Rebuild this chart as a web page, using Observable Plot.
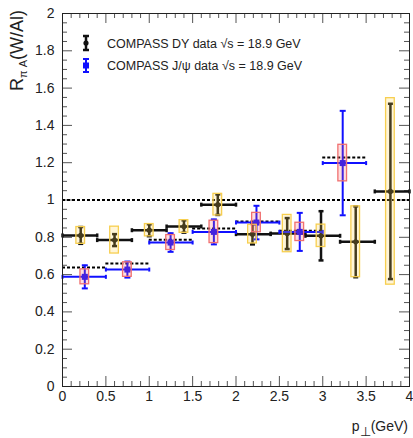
<!DOCTYPE html>
<html><head><meta charset="utf-8">
<script src="https://cdn.jsdelivr.net/npm/d3@7"></script>
<script src="https://cdn.jsdelivr.net/npm/@observablehq/plot@0.6"></script>
<style>
body{margin:0;background:#fff;}
#chart{position:relative;width:413px;height:438px;}
</style>
</head><body><div id="chart"></div>
<script>
// ---- data ----
const dyX   = [0.21, 0.60, 1.00, 1.40, 1.79, 2.19, 2.59, 2.98, 3.38, 3.78];
const dyLo  = [0.0, 0.4, 0.8, 1.2, 1.6, 2.0, 2.4, 2.8, 3.2, 3.6];
const dyHi  = [0.4, 0.8, 1.2, 1.6, 2.0, 2.4, 2.8, 3.2, 3.6, 4.0];
const dyY   = [0.81, 0.785, 0.838, 0.858, 0.975, 0.817, 0.82, 0.808, 0.776, 1.046];
const dyStat= [0.045, 0.032, 0.032, 0.033, 0.055, 0.055, 0.083, 0.132, 0.19, 0.47];
const dySys = [0.045, 0.072, 0.033, 0.034, 0.058, 0.05, 0.10, 0.06, 0.19, 0.50];

const jX    = [0.257, 0.748, 1.246, 1.745, 2.236, 2.735, 3.23];
const jLo   = [0.0, 0.5, 1.0, 1.5, 2.0, 2.5, 3.0];
const jHi   = [0.5, 1.0, 1.5, 2.0, 2.5, 3.0, 3.5];
const jY    = [0.588, 0.627, 0.772, 0.829, 0.879, 0.829, 1.198];
const jStat = [0.062, 0.043, 0.05, 0.067, 0.09, 0.102, 0.28];
const jSys  = [0.04, 0.039, 0.04, 0.06, 0.052, 0.049, 0.098];
const jRef  = [0.638, 0.659, 0.787, 0.847, 0.885, 0.835, 1.228];

const xTicks = [0, 0.5, 1, 1.5, 2, 2.5, 3, 3.5, 4];
const yTicks = [0, 0.2, 0.4, 0.6, 0.8, 1, 1.2, 1.4, 1.6, 1.8, 2];
const refLine = [1];

const legendDY = "COMPASS DY data \u221As = 18.9 GeV";
const legendJ  = "COMPASS J/\u03C8 data \u221As = 18.9 GeV";

// ---- tables ----
const dy = dyX.map((x,i)=>({x, lo:dyLo[i], hi:dyHi[i], y:dyY[i], e:dyStat[i], s:dySys[i]}));
const jp = jX.map((x,i)=>({x, lo:jLo[i], hi:jHi[i], y:jY[i], e:jStat[i], s:jSys[i], r:jRef[i]}));

const W=413, H=438, mL=62, mR=4, mT=13, mB=52;
const innerW=W-mL-mR, innerH=H-mT-mB;
const xMinor = d3.range(0, 41).map(i=>i/10).filter(v=>Math.abs(v*2-Math.round(v*2))>1e-6);
const yMinor = d3.range(0, 41).map(i=>i/20).filter(v=>Math.abs(v*5-Math.round(v*5))>1e-6);

const hLine = {draw(ctx, size){const r=Math.sqrt(size/Math.PI); ctx.moveTo(-r,0); ctx.lineTo(r,0);}};
const vLine = {draw(ctx, size){const r=Math.sqrt(size/Math.PI); ctx.moveTo(0,-r); ctx.lineTo(0,r);}};
const BW = 0.05;
const blue = "#1010ff";
const fmt = d => String(d);

const plot = Plot.plot({
  width: W, height: H,
  marginLeft: mL, marginRight: mR, marginTop: mT, marginBottom: mB,
  style: {fontFamily: "'Liberation Sans', Arial, Helvetica, sans-serif", fontSize: "14px", background: "#fff", color: "#222"},
  x: {domain: [0,4], ticks: xTicks, tickFormat: fmt, tickSize: 0, tickPadding: 5, label: null},
  y: {domain: [0,2], ticks: yTicks, tickFormat: fmt, tickSize: 0, tickPadding: 8, label: null},
  marks: [
    // ticks (inside frame)
    Plot.tickX(xTicks, {x: d=>d, insetTop: innerH-10, stroke: "#555"}),
    Plot.tickX(xTicks, {x: d=>d, insetBottom: innerH-10, stroke: "#555"}),
    Plot.tickX(xMinor, {x: d=>d, insetTop: innerH-5, stroke: "#555"}),
    Plot.tickX(xMinor, {x: d=>d, insetBottom: innerH-5, stroke: "#555"}),
    Plot.tickY(yTicks, {y: d=>d, insetRight: innerW-10, stroke: "#555"}),
    Plot.tickY(yTicks, {y: d=>d, insetLeft: innerW-10, stroke: "#555"}),
    Plot.tickY(yMinor, {y: d=>d, insetRight: innerW-5, stroke: "#555"}),
    Plot.tickY(yMinor, {y: d=>d, insetLeft: innerW-5, stroke: "#555"}),
    // reference line at 1
    Plot.ruleY(refLine, {stroke: "black", strokeWidth: 2, strokeDasharray: "3,2"}),
    // J/psi reference dashed segments
    Plot.ruleY(jp, {y: "r", x1: "lo", x2: "hi", stroke: "black", strokeWidth: 2, strokeDasharray: "3,2"}),
    // DY error bars
    Plot.ruleY(dy, {y: "y", x1: "lo", x2: "hi", stroke: "#111", strokeWidth: 2.5}),
    Plot.ruleX(dy, {x: "x", y1: d=>d.y-d.e, y2: d=>d.y+d.e, stroke: "#111", strokeWidth: 2.5}),
    Plot.dot(dy, {x: "x", y: d=>d.y-d.e, symbol: hLine, r: 2.5, stroke: "#111", strokeWidth: 2.5, fill: "none"}),
    Plot.dot(dy, {x: "x", y: d=>d.y+d.e, symbol: hLine, r: 2.5, stroke: "#111", strokeWidth: 2.5, fill: "none"}),
    Plot.dot(dy, {x: "lo", y: "y", symbol: vLine, r: 2, stroke: "#111", strokeWidth: 2.5, fill: "none"}),
    Plot.dot(dy, {x: "hi", y: "y", symbol: vLine, r: 2, stroke: "#111", strokeWidth: 2.5, fill: "none"}),
    Plot.dot(dy, {x: "x", y: "y", r: 2.6, fill: "#111", stroke: "none"}),
    // J/psi error bars
    Plot.ruleY(jp, {y: "y", x1: "lo", x2: "hi", stroke: blue, strokeWidth: 2}),
    Plot.ruleX(jp, {x: "x", y1: d=>d.y-d.e, y2: d=>d.y+d.e, stroke: blue, strokeWidth: 2}),
    Plot.dot(jp, {x: "x", y: d=>d.y-d.e, symbol: hLine, r: 3, stroke: blue, strokeWidth: 2, fill: "none"}),
    Plot.dot(jp, {x: "x", y: d=>d.y+d.e, symbol: hLine, r: 3, stroke: blue, strokeWidth: 2, fill: "none"}),
    Plot.dot(jp, {x: "lo", y: "y", symbol: vLine, r: 2, stroke: blue, strokeWidth: 2, fill: "none"}),
    Plot.dot(jp, {x: "hi", y: "y", symbol: vLine, r: 2, stroke: blue, strokeWidth: 2, fill: "none"}),
    Plot.dot(jp, {x: "x", y: "y", symbol: "square", r: 3.4, fill: blue, stroke: "none"}),
    // systematic boxes (translucent, on top)
    Plot.rect(dy, {x1: d=>d.x-BW, x2: d=>d.x+BW, y1: d=>d.y-d.s, y2: d=>d.y+d.s, fill: "#ffd24a", fillOpacity: 0.22, stroke: "#f7cf50", strokeWidth: 1.3}),
    Plot.rect(jp, {x1: d=>d.x-BW, x2: d=>d.x+BW, y1: d=>d.y-d.s, y2: d=>d.y+d.s, fill: "#ff6a6a", fillOpacity: 0.22, stroke: "#f07070", strokeWidth: 1.3}),
    Plot.frame({stroke: "#222", strokeWidth: 1})
  ]
});

const svg = d3.select(plot);
svg.style("overflow", "visible");
// y label
const yl = svg.append("text").attr("transform", "translate(23,10) rotate(-90)")
  .attr("text-anchor", "end").attr("font-size", 18).attr("fill", "#222");
yl.append("tspan").text("R");
yl.append("tspan").attr("font-size", 11).attr("dy", 4).text("\u03C0 A");
yl.append("tspan").attr("dy", -4).text("(W/Al)");
// x label
const xl = svg.append("text").attr("x", 408).attr("y", 431)
  .attr("text-anchor", "end").attr("font-size", 14).attr("fill", "#222");
xl.append("tspan").text("p");
xl.append("tspan").attr("dy", 5).attr("font-size", 13).text("\u22A5");
xl.append("tspan").attr("dy", -5).text("(GeV)");
// legend
const lg = svg.append("g");
lg.append("line").attr("x1",86).attr("x2",86).attr("y1",36).attr("y2",50).attr("stroke","#111").attr("stroke-width",2.5);
lg.append("line").attr("x1",83).attr("x2",89).attr("y1",36).attr("y2",36).attr("stroke","#111").attr("stroke-width",2.5);
lg.append("line").attr("x1",83).attr("x2",89).attr("y1",50).attr("y2",50).attr("stroke","#111").attr("stroke-width",2.5);
lg.append("circle").attr("cx",86).attr("cy",43).attr("r",2.6).attr("fill","#111");
lg.append("line").attr("x1",86).attr("x2",86).attr("y1",59).attr("y2",72).attr("stroke",blue).attr("stroke-width",2);
lg.append("line").attr("x1",83).attr("x2",89).attr("y1",59).attr("y2",59).attr("stroke",blue).attr("stroke-width",2);
lg.append("line").attr("x1",83).attr("x2",89).attr("y1",72).attr("y2",72).attr("stroke",blue).attr("stroke-width",2);
lg.append("rect").attr("x",83).attr("y",62.5).attr("width",6).attr("height",6).attr("fill",blue);
lg.append("text").attr("x",107).attr("y",47.5).attr("text-anchor","start").attr("font-size",12.5).attr("fill","#222").text(legendDY);
lg.append("text").attr("x",107).attr("y",69.5).attr("text-anchor","start").attr("font-size",12.5).attr("fill","#222").text(legendJ);

document.getElementById("chart").appendChild(plot);
</script>
</body></html>
